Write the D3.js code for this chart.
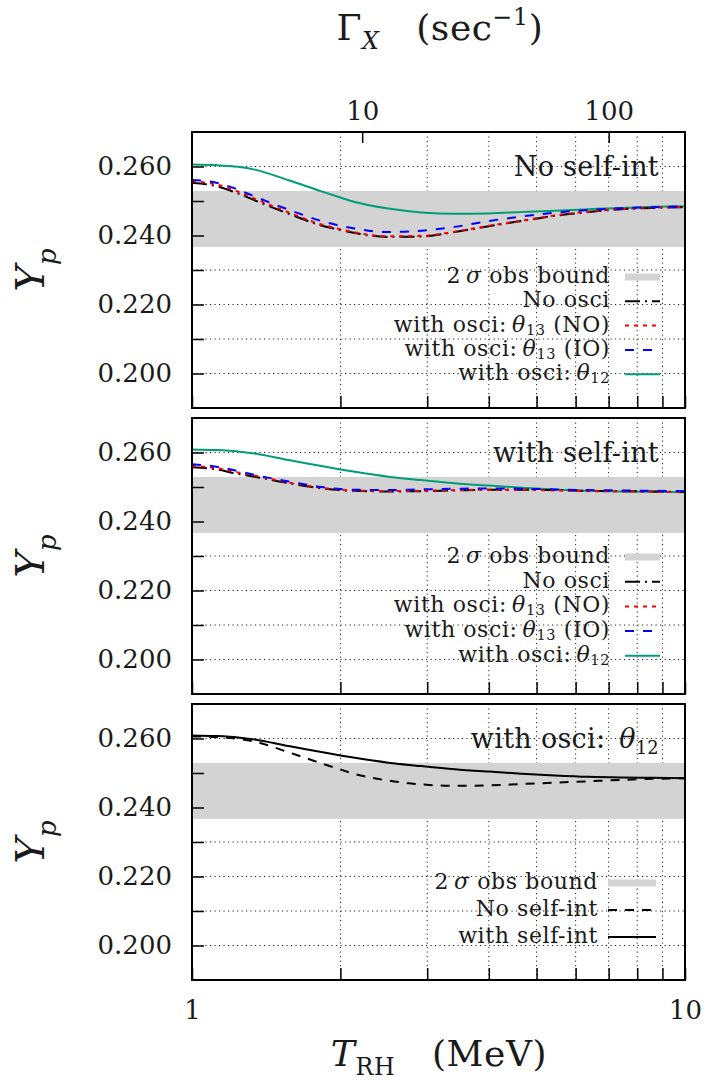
<!DOCTYPE html>
<html>
<head>
<meta charset="utf-8">
<script src="https://cdn.jsdelivr.net/npm/d3@7"></script>
<style>
  body { margin: 0; background: #fff; }
  svg { display: block; font-family: "DejaVu Serif", "Liberation Serif", serif; }
</style>
</head>
<body>
<svg width="706" height="1081"></svg>
<script>
var tRH = [1, 1.12, 1.24, 1.34, 1.57, 1.83, 2.0, 2.14, 2.5, 2.92, 3.41, 4.0, 4.66, 5.44, 6.36, 7.43, 8.6, 10];

// panel 1: no self-interaction
var p1NoOsci = [0.2553, 0.2543, 0.2522, 0.2502, 0.2463, 0.2429, 0.2416, 0.2407, 0.2396, 0.2397, 0.2410, 0.2427, 0.2442, 0.2457, 0.2468, 0.2476, 0.2480, 0.2482];
var p1Th13NO = [0.2557, 0.2548, 0.2527, 0.2507, 0.2467, 0.2432, 0.2418, 0.2409, 0.2398, 0.2399, 0.2411, 0.2428, 0.2443, 0.2458, 0.2469, 0.2477, 0.2481, 0.2483];
var p1Th13IO = [0.2561, 0.2553, 0.2533, 0.2513, 0.2475, 0.2442, 0.2428, 0.2420, 0.2410, 0.2414, 0.2425, 0.2442, 0.2455, 0.2466, 0.2474, 0.2479, 0.2482, 0.2485];
var p1Th12 = [0.2606, 0.2604, 0.2599, 0.2591, 0.2560, 0.2528, 0.2510, 0.2497, 0.2478, 0.2467, 0.2463, 0.2464, 0.2468, 0.2472, 0.2476, 0.2480, 0.2483, 0.2485];

// panel 2: with self-interaction
var p2NoOsci = [0.2557, 0.2551, 0.2538, 0.2530, 0.2511, 0.2496, 0.2491, 0.2489, 0.2487, 0.2488, 0.2490, 0.2492, 0.2492, 0.2491, 0.2489, 0.2488, 0.2487, 0.2486];
var p2Th13NO = [0.2561, 0.2555, 0.2542, 0.2533, 0.2513, 0.2498, 0.2492, 0.2490, 0.2488, 0.2489, 0.2491, 0.2492, 0.2492, 0.2490, 0.2488, 0.2487, 0.2486, 0.2485];
var p2Th13IO = [0.2566, 0.2559, 0.2546, 0.2535, 0.2516, 0.2500, 0.2494, 0.2492, 0.2491, 0.2493, 0.2495, 0.2496, 0.2495, 0.2493, 0.2491, 0.2490, 0.2489, 0.2488];
var p2Th12 = [0.2609, 0.2607, 0.2603, 0.2597, 0.2578, 0.2561, 0.2551, 0.2544, 0.2530, 0.2520, 0.2511, 0.2504, 0.2498, 0.2493, 0.2489, 0.2487, 0.2486, 0.2485];

// 2 sigma observational bound on Yp
var obsBand = [0.2367, 0.2529];

var yTicks = [0.19, 0.20, 0.21, 0.22, 0.23, 0.24, 0.25, 0.26, 0.27];
var yLabels = [0.20, 0.22, 0.24, 0.26];
var xTicks = [1, 2, 3, 4, 5, 6, 7, 8, 9, 10];
var xLabels = [1, 10];
var gammaTicks = [10, 100];
var gammaPerT2 = 2.04; // Gamma_X (1/s) = 3H ~ 2.04 * T_RH^2

var serif = "DejaVu Serif, Liberation Serif, serif";
var ink = "#1a1a1a";

var svg = d3.select("svg");
var margin = { left: 192, right: 21 };
var width = 706 - margin.left - margin.right;
var panelHeight = 276;

var x = d3.scaleLog().domain([1, 10]).range([0, width]);
var xGamma = d3.scaleLog().domain([gammaPerT2, gammaPerT2 * 100]).range([0, width]);
var y = d3.scaleLinear().domain([0.19, 0.27]).range([panelHeight, 0]);

var line = d3
  .line()
  .x(function (d) { return x(d[0]); })
  .y(function (d) { return y(d[1]); })
  .curve(d3.curveMonotoneX);

var styles = {
  noOsci: { color: "#000", dash: "15,5,2,5", w: 2 },
  th13NO: { color: "#ff0000", dash: "4,5", w: 2 },
  th13IO: { color: "#0000ff", dash: "9,9", w: 2 },
  th12: { color: "#009e73", dash: null, w: 2 },
  noSelf: { color: "#000", dash: "9,8", w: 2 },
  withSelf: { color: "#000", dash: null, w: 2 }
};

var oscLegend = [
  { style: "band", parts: [{ t: "2\u2009" }, { t: "\u03c3", it: true }, { t: " obs bound" }] },
  { style: "noOsci", parts: [{ t: "No osci" }] },
  { style: "th13NO", parts: [{ t: "with osci:\u2009" }, { t: "\u03b8", it: true }, { t: "13", sub: true }, { t: " (NO)" }] },
  { style: "th13IO", parts: [{ t: "with osci:\u2009" }, { t: "\u03b8", it: true }, { t: "13", sub: true }, { t: " (IO)" }] },
  { style: "th12", parts: [{ t: "with osci:\u2009" }, { t: "\u03b8", it: true }, { t: "12", sub: true }] }
];

var panels = [
  {
    top: 132,
    title: [{ t: "No self-int" }],
    series: [
      { style: "th12", values: p1Th12 },
      { style: "noOsci", values: p1NoOsci },
      { style: "th13NO", values: p1Th13NO },
      { style: "th13IO", values: p1Th13IO }
    ],
    legend: oscLegend, legendTop: 145, legendStep: 24.3, textEnd: 418, sample: [433, 468]
  },
  {
    top: 418,
    title: [{ t: "with self-int" }],
    series: [
      { style: "th12", values: p2Th12 },
      { style: "noOsci", values: p2NoOsci },
      { style: "th13NO", values: p2Th13NO },
      { style: "th13IO", values: p2Th13IO }
    ],
    legend: oscLegend, legendTop: 139, legendStep: 24.7, textEnd: 418, sample: [433, 468]
  },
  {
    top: 704,
    title: [{ t: "with osci:\u2002" }, { t: "\u03b8", it: true }, { t: "12", sub: true }],
    series: [
      { style: "noSelf", values: p1Th12 },
      { style: "withSelf", values: p2Th12 }
    ],
    legend: [
      { style: "band", parts: [{ t: "2\u2009" }, { t: "\u03c3", it: true }, { t: " obs bound" }] },
      { style: "noSelf", parts: [{ t: "No self-int" }] },
      { style: "withSelf", parts: [{ t: "with self-int" }] }
    ],
    legendTop: 179, legendStep: 27, textEnd: 406, sample: [416, 464]
  }
];

function richText(sel, parts, size, subShift) {
  var shift = 0;
  subShift = subShift || 0.3;
  parts.forEach(function (p) {
    var want = p.sub ? size * subShift : p.sup ? -size * 0.42 : 0;
    sel
      .append("tspan")
      .attr("dy", want - shift)
      .attr("font-size", p.sub || p.sup ? size * 0.66 : size)
      .attr("font-style", p.it ? "italic" : null)
      .text(p.t);
    shift = want;
  });
}

function styleLine(sel, s) {
  sel
    .attr("fill", "none")
    .attr("stroke", s.color)
    .attr("stroke-width", s.w)
    .attr("stroke-dasharray", s.dash);
}

panels.forEach(function (p, i) {
  var g = svg
    .append("g")
    .attr("transform", "translate(" + margin.left + "," + p.top + ")");

  // dotted grid, behind everything
  var grid = g.append("g").attr("class", "grid");
  grid
    .selectAll(".vgrid")
    .data(xTicks.slice(1, -1))
    .enter()
    .append("line")
    .attr("x1", function (d) { return x(d); })
    .attr("x2", function (d) { return x(d); })
    .attr("y1", 0)
    .attr("y2", panelHeight);
  grid
    .selectAll(".hgrid")
    .data(yTicks.slice(1, -1))
    .enter()
    .append("line")
    .attr("x1", 0)
    .attr("x2", width)
    .attr("y1", function (d) { return y(d); })
    .attr("y2", function (d) { return y(d); });
  grid
    .selectAll("line")
    .attr("stroke", "#222")
    .attr("stroke-width", 1)
    .attr("stroke-dasharray", "1.2,3.3");

  // observational band
  g.append("rect")
    .attr("x", 0)
    .attr("width", width)
    .attr("y", y(obsBand[1]))
    .attr("height", y(obsBand[0]) - y(obsBand[1]))
    .attr("fill", "#d3d3d3");

  // title inside panel
  var title = g
    .append("text")
    .attr("x", 467)
    .attr("y", y(0.26) + 9)
    .attr("text-anchor", "end")
    .attr("fill", ink)
    .attr("letter-spacing", 0.3);
  richText(title, p.title, 27, 0.25);

  // curves
  g.selectAll(".curve")
    .data(p.series)
    .enter()
    .append("path")
    .attr("class", "curve")
    .attr("d", function (d) { return line(d3.zip(tRH, d.values)); })
    .each(function (d) { styleLine(d3.select(this), styles[d.style]); });

  // legend
  var lg = g.append("g").attr("class", "legend");
  p.legend.forEach(function (e, k) {
    var ly = p.legendTop + k * p.legendStep;
    var t = lg
      .append("text")
      .attr("x", p.textEnd)
      .attr("y", ly + 6)
      .attr("text-anchor", "end")
      .attr("fill", ink)
      .attr("letter-spacing", 0.6);
    richText(t, e.parts, 22, 0.14);
    if (e.style === "band") {
      lg.append("rect")
        .attr("x", p.sample[0])
        .attr("width", p.sample[1] - p.sample[0])
        .attr("y", ly - 3.5)
        .attr("height", 7)
        .attr("fill", "#d3d3d3");
    } else {
      lg.append("line")
        .attr("x1", p.sample[0])
        .attr("x2", p.sample[1])
        .attr("y1", ly)
        .attr("y2", ly)
        .call(styleLine, styles[e.style]);
    }
  });

  // left axis
  var ya = g
    .append("g")
    .call(
      d3.axisLeft(y)
        .tickValues(yTicks.slice(1, -1))
        .tickSize(-12)
        .tickPadding(20)
        .tickFormat(function (d) {
          return yLabels.some(function (v) { return Math.abs(v - d) < 1e-9; }) ? d3.format(".3f")(d) : "";
        })
    );
  ya.select(".domain").remove();

  // bottom axis
  var xa = g
    .append("g")
    .attr("transform", "translate(0," + panelHeight + ")")
    .call(
      d3.axisBottom(x)
        .tickValues(xTicks)
        .tickSize(-12)
        .tickPadding(21)
        .tickFormat(function (d) {
          return i === panels.length - 1 && xLabels.indexOf(d) >= 0 ? d : "";
        })
    );
  xa.select(".domain").remove();

  // top axis: Gamma_X, first panel only
  if (i === 0) {
    var ga = g
      .append("g")
      .call(
        d3.axisTop(xGamma)
          .tickValues(gammaTicks)
          .tickSize(-11)
          .tickPadding(12)
          .tickFormat(d3.format("d"))
      );
    ga.select(".domain").remove();
  }

  g.selectAll(".tick line").attr("stroke", "#000").attr("stroke-width", 1.5);
  g.selectAll(".tick text")
    .attr("font-family", serif)
    .attr("font-size", 26)
    .attr("fill", ink);

  // frame
  g.append("rect")
    .attr("width", width)
    .attr("height", panelHeight)
    .attr("fill", "none")
    .attr("stroke", "#000")
    .attr("stroke-width", 2);

  // y label
  var yl = svg
    .append("text")
    .attr("transform", "translate(44," + (p.top + panelHeight / 2) + ") rotate(-90)")
    .attr("text-anchor", "middle")
    .attr("fill", ink);
  richText(yl, [{ t: "Y", it: true }, { t: "p", it: true, sub: true }], 40);
});

// bottom title
var xt = svg
  .append("text")
  .attr("x", 439)
  .attr("y", 1066)
  .attr("text-anchor", "middle")
  .attr("fill", ink)
  .attr("letter-spacing", 0.6);
richText(xt, [{ t: "T", it: true }, { t: "RH", sub: true }, { t: "\u2003(MeV)" }], 36, 0.24);

// top title
var gt = svg
  .append("text")
  .attr("x", 440)
  .attr("y", 40)
  .attr("text-anchor", "middle")
  .attr("fill", ink)
  .attr("letter-spacing", 0.6);
richText(gt, [{ t: "\u0393" }, { t: "X", it: true, sub: true }, { t: "\u2003(sec" }, { t: "\u22121", sup: true }, { t: ")" }], 36, 0.24);
</script>
</body>
</html>
